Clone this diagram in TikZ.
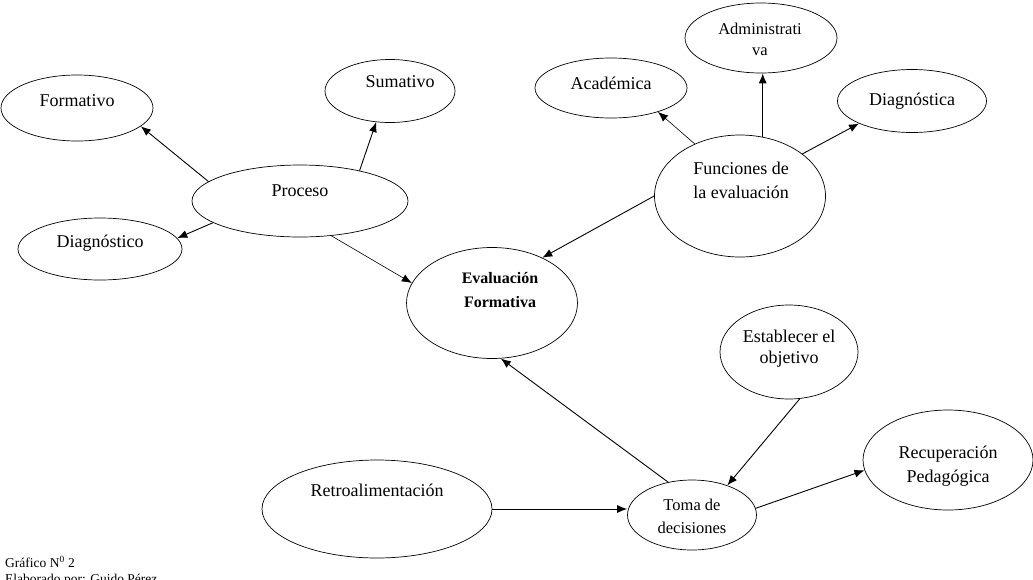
\documentclass[tikz,border=0pt]{standalone}
\usepackage{fontspec}
\setmainfont{Liberation Serif}
\usetikzlibrary{shapes.geometric,arrows.meta}
\begin{document}
\begin{tikzpicture}[x=1pt,y=-1pt,
  ov/.style={draw,ellipse,line width=0.7pt,inner sep=0pt},
  lbl/.style={font=\fontsize{18}{20}\selectfont,inner sep=0pt,anchor=center},
  sml/.style={font=\fontsize{16.5}{18}\selectfont},
  bld/.style={font=\fontsize{16}{18}\bfseries},
  arr/.style={line width=0.9pt,-{Latex[length=10pt,width=8pt]}},
  thin arr/.style={line width=0.6pt,-{Latex[length=10pt,width=8pt]}}]
\useasboundingbox (0,0) rectangle (1033,579);
% ellipses
\node[ov,minimum width=152pt,minimum height=66pt] (formativo) at (77,108) {};
\node[ov,minimum width=130pt,minimum height=63pt] (sumativo) at (390,91) {};
\node[ov,minimum width=216pt,minimum height=72pt] (proceso) at (300,201) {};
\node[ov,minimum width=164pt,minimum height=62pt] (diagnostico) at (100,249) {};
\node[ov,minimum width=171pt,minimum height=111pt] (eval) at (492,303) {};
\node[ov,minimum width=152pt,minimum height=60pt] (academica) at (611,88) {};
\node[ov,minimum width=152pt,minimum height=70pt] (admin) at (761,38) {};
\node[ov,minimum width=149pt,minimum height=63pt] (diagnostica) at (912,101) {};
\node[ov,minimum width=171pt,minimum height=122pt] (funciones) at (740,196) {};
\node[ov,minimum width=138pt,minimum height=94pt] (establecer) at (789,352) {};
\node[ov,minimum width=170pt,minimum height=100pt] (recup) at (948,460) {};
\node[ov,minimum width=230pt,minimum height=98pt] (retro) at (377,509) {};
\node[ov,minimum width=129pt,minimum height=70pt] (toma) at (692,515) {};
% labels
\node[lbl] (t1) at (77,101) {Formativo};
\node[lbl] (t2) at (400,82) {Sumativo};
\node[lbl] (t3) at (300,191) {Proceso};
\node[lbl] (t4) at (100,243) {Diagnóstico};
\node[lbl,bld] (t5a) at (500,278) {Evaluación};
\node[lbl,bld] (t5b) at (500,302) {Formativa};
\node[lbl] (t6) at (611,83) {Académica};
\node[lbl,sml] (t7a) at (760,29) {Administrati};
\node[lbl,sml] (t7b) at (760,52) {va};
\node[lbl] (t8) at (912,101) {Diagnóstica};
\node[lbl] (t9a) at (741,168) {Funciones de};
\node[lbl] (t9b) at (741,192) {la evaluación};
\node[lbl] (t10a) at (789,336) {Establecer el};
\node[lbl] (t10b) at (789,359) {objetivo};
\node[lbl] (t11a) at (948,454) {Recuperación};
\node[lbl] (t11b) at (948,478) {Pedagógica};
\node[lbl] (t12) at (377,490) {Retroalimentación};
\node[lbl,sml] (t13a) at (692,505) {Toma de};
\node[lbl,sml] (t13b) at (692,528) {decisiones};
\node[font=\fontsize{13.5}{16}\selectfont,anchor=north west,inner sep=0pt,align=left] (cap) at (5,556)
  {Gráfico N\textsuperscript{0} 2\\Elaborado por: Guido Pérez};
% connectors
\draw[arr] (proceso.168) -- (formativo.-16);
\draw[arr] (proceso.27) -- (sumativo.-114);
\draw[arr] (proceso.-166) -- (diagnostico.8);
\draw[thin arr] (proceso.-48) -- (eval.166);
\draw[arr] (funciones.180) -- (eval.42);
\draw[thin arr] (funciones.131) -- (academica.-27);
\draw[arr] (funciones.69) -- (funciones.69 |- admin.south);
\draw[arr] (funciones.34) -- (diagnostica.-157);
\draw[arr] (toma.126) -- (eval.-81);
\draw[arr] (establecer.-77) -- (toma.40);
\draw[arr] (retro.east) -- (toma.west |- retro.east);
\draw[arr] (toma.6) -- (recup.-173);
\end{tikzpicture}
\end{document}
